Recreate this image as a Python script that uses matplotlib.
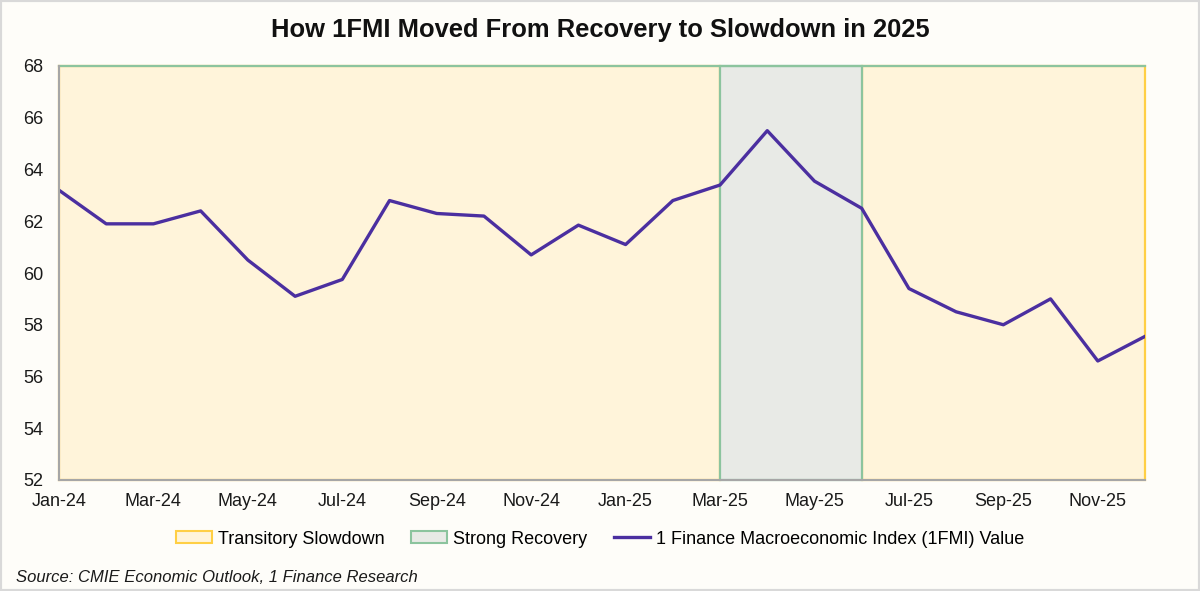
import matplotlib
matplotlib.use("Agg")
import matplotlib.pyplot as plt
from matplotlib.patches import Patch, Rectangle
from matplotlib.lines import Line2D

# ---- data ----
months = ["Jan-24", "Feb-24", "Mar-24", "Apr-24", "May-24", "Jun-24",
          "Jul-24", "Aug-24", "Sep-24", "Oct-24", "Nov-24", "Dec-24",
          "Jan-25", "Feb-25", "Mar-25", "Apr-25", "May-25", "Jun-25",
          "Jul-25", "Aug-25", "Sep-25", "Oct-25", "Nov-25", "Dec-25"]
fmi_values = [63.2, 61.9, 61.9, 62.4, 60.5, 59.1,
              59.75, 62.8, 62.3, 62.2, 60.7, 61.85,
              61.1, 62.8, 63.4, 65.5, 63.55, 62.5,
              59.4, 58.5, 58.0, 59.0, 56.6, 57.55]
slowdown_periods = [("Jan-24", "Mar-25"), ("Jun-25", "Dec-25")]
recovery_periods = [("Mar-25", "Jun-25")]
y_ticks = [52, 54, 56, 58, 60, 62, 64, 66, 68]
x_tick_labels = months[::2]

title = "How 1FMI Moved From Recovery to Slowdown in 2025"
source = "Source: CMIE Economic Outlook, 1 Finance Research"
legend_labels = ["Transitory Slowdown", "Strong Recovery",
                 "1 Finance Macroeconomic Index (1FMI) Value"]

# ---- style ----
BG = "#FEFDF9"
YELLOW_FILL = "#FFF4DA"
YELLOW_EDGE = "#FFCF45"
GREY_FILL = "#E8EAE6"
GREEN_EDGE = "#8CC49E"
LINE = "#4B2FA0"
AXIS = "#A6A6A6"

plt.rcParams['font.family'] = ['Liberation Sans', 'DejaVu Sans']

fig = plt.figure(figsize=(12, 5.91), dpi=100, facecolor=BG)
W, H = 1200, 591
ax = fig.add_axes([59 / W, 1 - 480 / H, (1145 - 59) / W, (480 - 66) / H])
ax.set_facecolor(BG)

idx = {m: i for i, m in enumerate(months)}
xs = list(range(len(months)))

for a, b in slowdown_periods:
    ax.axvspan(idx[a], idx[b], facecolor=YELLOW_FILL, edgecolor=YELLOW_EDGE,
               linewidth=1.6, zorder=1, clip_on=False)
for a, b in recovery_periods:
    ax.axvspan(idx[a], idx[b], facecolor=GREY_FILL, edgecolor=GREEN_EDGE,
               linewidth=1.6, zorder=1.2, clip_on=False)
ax.axhline(y_ticks[-1], color=GREEN_EDGE, linewidth=1.6, zorder=1.5,
           clip_on=False)

ax.plot(xs, fmi_values, color=LINE, linewidth=2.4, zorder=3,
        solid_joinstyle='round')

ax.set_xlim(0, len(months) - 1)
ax.set_ylim(y_ticks[0], y_ticks[-1])
ax.set_yticks(y_ticks)
ax.set_xticks(xs[::2])
ax.set_xticklabels(x_tick_labels)

for s in ["top", "right"]:
    ax.spines[s].set_visible(False)
for s in ["left", "bottom"]:
    ax.spines[s].set_color(AXIS)
    ax.spines[s].set_linewidth(1.5)
    ax.spines[s].set_zorder(4)

ax.tick_params(axis='both', length=0, labelsize=13, colors="#1a1a1a")
ax.tick_params(axis='x', pad=9)
ax.tick_params(axis='y', pad=11)

handles = [
    Patch(facecolor=YELLOW_FILL, edgecolor=YELLOW_EDGE, linewidth=1.5),
    Patch(facecolor=GREY_FILL, edgecolor=GREEN_EDGE, linewidth=1.5),
    Line2D([0], [0], color=LINE, linewidth=2.4),
]
fig.legend(handles, legend_labels, loc='center',
           bbox_to_anchor=(0.5, 1 - 539 / H), ncol=3, frameon=False,
           fontsize=13, handlelength=2.0, handleheight=0.6,
           handletextpad=0.3, columnspacing=1.5)

fig.text(0.5, 1 - 30 / H, title, ha='center', va='center',
         fontsize=18.4, fontweight='bold', color="#111111")
fig.text(16 / W, 1 - 578 / H, source, ha='left', va='center',
         fontsize=12, style='italic', color="#1a1a1a")

fig.patches.append(Rectangle((0, 0), 1, 1, transform=fig.transFigure,
                             fill=False, edgecolor="#D9D9D9", linewidth=3))

fig.savefig("out.png", dpi=100, facecolor=BG)
